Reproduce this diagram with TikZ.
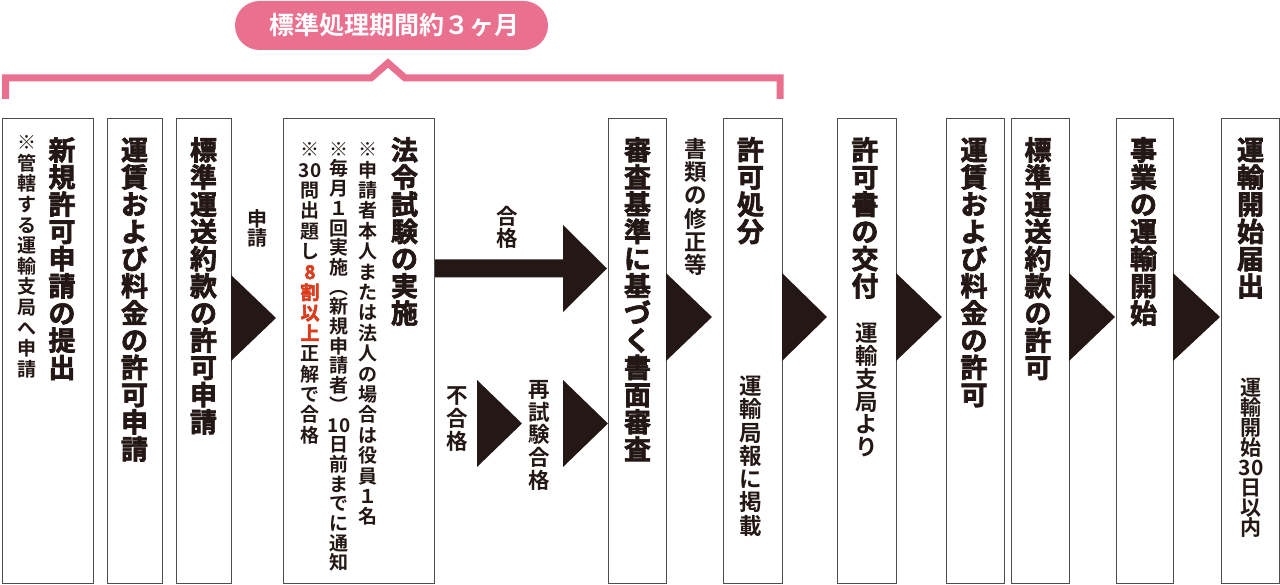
\documentclass[tikz,border=0pt]{standalone}
\usepackage{fontspec}
\newfontfamily\jpR{Noto Sans CJK JP}
\newfontfamily\jpM{Noto Sans CJK JP Bold}
\newfontfamily\jpH{Noto Sans CJK JP Bold}[FakeBold=2.5]
\definecolor{ink}{HTML}{231815}
\definecolor{boxc}{HTML}{4D4D4D}
\definecolor{pinkc}{HTML}{EA708F}
\definecolor{redc}{HTML}{DC3C1E}
\makeatletter
\newdimen\vt@p
\newcommand\vt[2]{\vt@p=#1pt\relax\vbox{\offinterlineskip\vt@a#2\@nil}}
\def\vt@a#1{\def\vt@tmp{#1}\ifx\vt@tmp\@nnil\else
  \hbox to 1em{\hss\vbox to \vt@p{\vss\hbox{\smash{#1}}\vskip\dimexpr\vt@p/2-0.38em\relax}\hss}%
  \expandafter\vt@a\fi}
\makeatother
\newcommand\rd[1]{{\jpH\color{redc}#1}}
\tikzset{
  box/.style={draw=boxc, line width=1.3pt, fill=white, inner sep=0pt, anchor=north west, minimum height=465pt},
  ttl/.style={inner sep=0pt, anchor=north, text=ink, font=\jpH\fontsize{27}{27}\selectfont},
  note/.style={inner sep=0pt, anchor=north, text=ink, font=\jpM\fontsize{19}{19}\selectfont},
  lbl/.style={inner sep=0pt, anchor=north, text=ink, font=\jpM\fontsize{21.5}{21.5}\selectfont},
  tri/.style={fill=ink},
  pill/.style={fill=pinkc, rounded corners=24.5pt, minimum width=313pt, minimum height=49pt, inner sep=0pt, text=white, font=\jpM\fontsize{25}{25}\selectfont},
  brace/.style={draw=pinkc, line width=7pt, line join=miter},
}
\begin{document}
\begin{tikzpicture}[x=1pt,y=-1pt]
\useasboundingbox[fill=white] (0,0) rectangle (1280,585);
% header
\node[pill] (pill) at (391.5,25.5) {\hspace{6pt}標準処理期間約３ヶ月};
\draw[brace] (5.5,99) -- (5.5,78) -- (371,78) -- (388,63) -- (405,78) -- (780,78) -- (780,99);
% boxes
\node[box, minimum width=91pt] (b1) at (2,118) {};
\node[box, minimum width=55pt] (b2) at (107,118) {};
\node[box, minimum width=55pt] (b3) at (176,118) {};
\node[box, minimum width=151pt] (b4) at (283,118) {};
\node[box, minimum width=58pt] (b5) at (608,118) {};
\node[box, minimum width=59pt] (b6) at (723,118) {};
\node[box, minimum width=59pt] (b7) at (837,118) {};
\node[box, minimum width=58pt] (b8) at (946,118) {};
\node[box, minimum width=58pt] (b9) at (1011,118) {};
\node[box, minimum width=57pt] (b10) at (1116,118) {};
\node[box, minimum width=58pt] (b11) at (1221,118) {};
% triangles between boxes
\fill[tri] (231,275) -- (276,318) -- (231,361) -- cycle;
\fill[tri] (666,273) -- (712,317) -- (666,361) -- cycle;
\fill[tri] (782,273) -- (827,317) -- (782,361) -- cycle;
\fill[tri] (896,273) -- (942,317) -- (896,361) -- cycle;
\fill[tri] (1069,273) -- (1115,317) -- (1069,361) -- cycle;
\fill[tri] (1173,273) -- (1220,317) -- (1173,361) -- cycle;
% big arrow and small triangles
\fill[tri] (435,259.5) -- (563,259.5) -- (563,225) -- (607,268.5) -- (563,312) -- (563,277.5) -- (435,277.5) -- cycle;
\fill[tri] (477,380) -- (522,423.5) -- (477,467) -- cycle;
\fill[tri] (563,380) -- (608,423.5) -- (563,467) -- cycle;
% texts
\node[ttl] (t1) at (62,136) {\vt{27.2}{新規許可申請の提出}};
\node[note] (n1) at (27,132) {\vt{20.6}{※管轄する運輸支局へ申請}};
\node[ttl] (t2) at (134.5,136) {\vt{27.2}{運賃および料金の許可申請}};
\node[ttl] (t3) at (203.5,136) {\vt{27.2}{標準運送約款の許可申請}};
\node[lbl, font=\jpM\fontsize{20}{20}\selectfont] (l1) at (257,208.5) {\vt{19.5}{申請}};
\node[ttl] (t4) at (404.5,136) {\vt{27.2}{法令試験の実施}};
\node[note] (n41) at (368,139) {\vt{20.4}{※申請者本人または法人の場合は役員１名}};
\node[note] (n42) at (339,139) {\vt{19.7}{※毎月１回実施︵新規申請者︶{10}日前までに通知}};
\node[note] (n43) at (310,139) {\vt{20.4}{※{30}問出題し{\rd 8}{\rd 割}{\rd 以}{\rd 上}正解で合格}};
\node[lbl] (l2) at (507,205) {\vt{22}{合格}};
\node[lbl] (l3) at (457,383.5) {\vt{23}{不合格}};
\node[lbl] (l4) at (539,377.6) {\vt{22.75}{再試験合格}};
\node[lbl, font=\jpM\fontsize{22.5}{22.5}\selectfont] (l5) at (696,136.8) {\vt{23.3}{書類の修正等}};
\node[ttl] (t5) at (637.5,136) {\vt{27.2}{審査基準に基づく書面審査}};
\node[ttl] (t6) at (750.5,136) {\vt{27.2}{許可処分}};
\node[lbl, font=\jpM\fontsize{22.5}{22.5}\selectfont] (l6) at (751,374) {\vt{23.3}{運輸局報に掲載}};
\node[ttl] (t7) at (865,136) {\vt{27.2}{許可書の交付}};
\node[lbl, font=\jpM\fontsize{22.5}{22.5}\selectfont] (l7) at (867,321.6) {\vt{22.8}{運輸支局より}};
\node[ttl] (t8) at (974,136) {\vt{27.2}{運賃および料金の許可}};
\node[ttl] (t9) at (1038,136) {\vt{27.2}{標準運送約款の許可}};
\node[ttl] (t10) at (1143.5,136) {\vt{27.2}{事業の運輸開始}};
\node[ttl] (t11) at (1250.5,136) {\vt{27.2}{運輸開始届出}};
\node[lbl, font=\jpM\fontsize{21}{21}\selectfont] (l8) at (1251,377) {\vt{20}{運輸開始{30}日以内}};
\end{tikzpicture}
\end{document}
